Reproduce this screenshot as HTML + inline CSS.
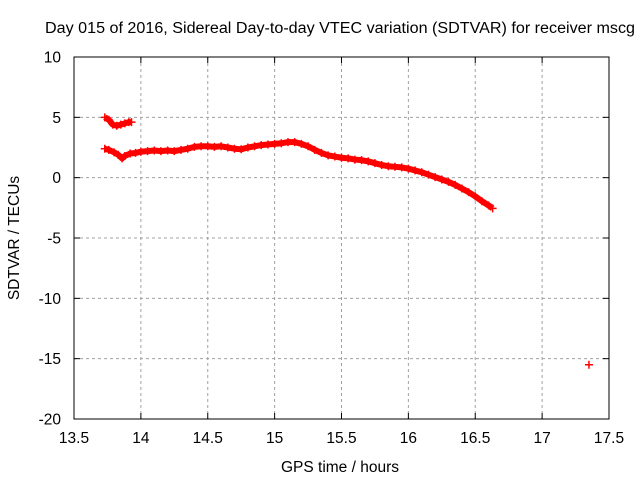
<!DOCTYPE html>
<html><head><meta charset="utf-8"><style>
body{margin:0;background:#fff}
svg{display:block;font-family:"Liberation Sans",sans-serif;font-size:15.5px}
</style></head><body>
<svg id="chart" width="640" height="480">
<text x="340" y="33" text-anchor="middle" textLength="590" lengthAdjust="spacingAndGlyphs">Day 015 of 2016, Sidereal Day-to-day VTEC variation (SDTVAR) for receiver mscg</text>
<g id="grid"></g><g id="ticks"></g>
<rect x="74" y="57" width="535" height="362" fill="none" stroke="#000"/>
<text x="340" y="472" text-anchor="middle">GPS time / hours</text>
<text transform="translate(19,238) rotate(-90)" text-anchor="middle">SDTVAR / TECUs</text>
<g id="series"></g>
</svg>
<script>
const xTicks=[13.5,14,14.5,15,15.5,16,16.5,17,17.5];
const yTicks=[10,5,0,-5,-10,-15,-20];
const mainX=[13.73,13.76,13.8,13.83,13.86,13.88,13.92,13.96,14.0,14.05,14.1,14.15,14.2,14.25,14.3,14.35,14.4,14.45,14.5,14.55,14.6,14.65,14.7,14.75,14.8,14.85,14.9,14.95,15.0,15.05,15.1,15.15,15.2,15.25,15.3,15.35,15.4,15.45,15.5,15.55,15.6,15.65,15.7,15.75,15.8,15.85,15.9,15.95,16.0,16.05,16.1,16.15,16.2,16.25,16.3,16.35,16.4,16.45,16.5,16.55,16.6,16.63];
const mainY=[2.4,2.3,2.1,1.9,1.6,1.8,2.0,2.05,2.15,2.2,2.25,2.2,2.25,2.2,2.3,2.4,2.55,2.6,2.6,2.55,2.6,2.5,2.4,2.35,2.5,2.6,2.7,2.75,2.8,2.85,2.95,2.95,2.8,2.6,2.3,2.05,1.85,1.75,1.65,1.6,1.5,1.45,1.35,1.2,1.05,0.95,0.9,0.85,0.75,0.6,0.45,0.25,0.05,-0.15,-0.35,-0.6,-0.9,-1.2,-1.55,-1.95,-2.3,-2.55];
const upperX=[13.73,13.76,13.79,13.82,13.85,13.88,13.91,13.93];
const upperY=[5.0,4.8,4.4,4.3,4.4,4.5,4.6,4.6];
const loneX=[17.35];
const loneY=[-15.5];
const NS="http://www.w3.org/2000/svg";
const sx=v=>74+(v-13.5)*535/4;
const sy=v=>57+(10-v)*362/30;
function mk(t,a,p){const e=document.createElementNS(NS,t);for(const k in a)e.setAttribute(k,a[k]);p.appendChild(e);return e;}
const grid=document.getElementById('grid'),ticks=document.getElementById('ticks'),ser=document.getElementById('series');
xTicks.forEach((v,i)=>{const x=sx(v);
 if(i>0&&i<xTicks.length-1){const g=mk('line',{x1:x,x2:x,y1:57,y2:419,stroke:'#a0a0a0','stroke-dasharray':'3,3'},grid);
 
 }
 mk('line',{x1:x,x2:x,y1:419,y2:413,stroke:'#000'},ticks);mk('line',{x1:x,x2:x,y1:57,y2:63,stroke:'#000'},ticks);
 const t=mk('text',{x:x,y:443,'text-anchor':'middle'},ticks);t.textContent=v;
 
 });
yTicks.forEach((v,i)=>{const y=sy(v);
 if(i>0&&i<yTicks.length-1){const g=mk('line',{x1:74,x2:609,y1:y,y2:y,stroke:'#a0a0a0','stroke-dasharray':'3,3'},grid);
 
 }
 mk('line',{x1:74,x2:80,y1:y,y2:y,stroke:'#000'},ticks);mk('line',{x1:609,x2:603,y1:y,y2:y,stroke:'#000'},ticks);
 const t=mk('text',{x:61,y:y+5.5,'text-anchor':'end'},ticks);t.textContent=v;
 
 });
function series(xs,ys,name){
 const g=mk('g',{},ser);
 
 
 if(xs.length>1){let d='';xs.forEach((x,i)=>{d+=(i?'L':'M')+sx(x)+','+sy(ys[i]);});mk('path',{d:d,fill:'none',stroke:'#f00','stroke-width':6,'stroke-linejoin':'round'},g);}
 xs.forEach((x,i)=>{const cx=sx(x),cy=sy(ys[i]);
  const p=mk('path',{d:`M${cx-4},${cy}H${cx+4}M${cx},${cy-4}V${cy+4}`,stroke:'#f00','stroke-width':1.5},g);
  
  });
}
series(mainX,mainY,'main-series');
series(upperX,upperY,'upper-series');
series(loneX,loneY,'outlier-point');
</script>
</body></html>
